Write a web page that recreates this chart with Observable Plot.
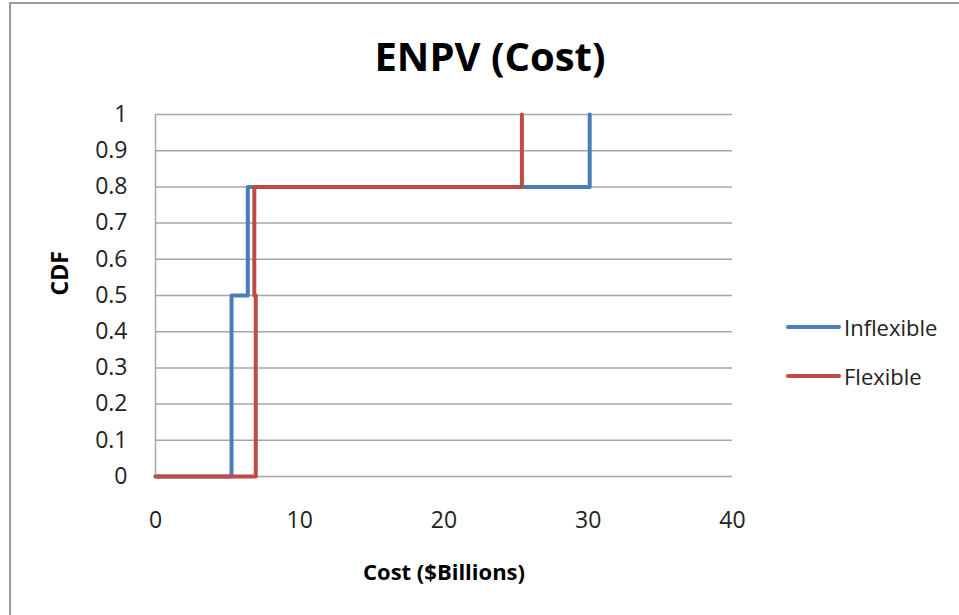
<!DOCTYPE html>
<html>
<head>
<meta charset="utf-8">
<script src="https://cdn.jsdelivr.net/npm/d3@7"></script>
<script src="https://cdn.jsdelivr.net/npm/@observablehq/plot@0.6"></script>
<style>
  html, body { margin: 0; padding: 0; background: #fff; }
  #chart { position: relative; width: 959px; height: 615px; font-family: "Open Sans", sans-serif; overflow: hidden; }
  #frame { position: absolute; left: 9px; top: 2px; width: 960px; height: 620px; border-left: 2px solid #9a9a9a; border-top: 2px solid #9a9a9a; box-sizing: border-box; }
  #title { position: absolute; left: 0; width: 980px; top: 30px; line-height: 1.3; text-align: center; font-size: 40px; font-weight: bold; color: #000; }
  .legend { position: absolute; left: 786px; display: flex; align-items: center; font-size: 22px; line-height: 1.3; color: #222; }
  .legend .sw { width: 55px; height: 4px; border-radius: 2px; margin-right: 3px; }
  #plot { position: absolute; left: 0; top: 0; }
</style>
</head>
<body>
<div id="chart">
  <div id="frame"></div>
  <div id="plot"></div>
  <div id="title">ENPV (Cost)</div>
  <div class="legend" style="top:313px"><div class="sw" style="background:#4a7ebb"></div>Inflexible</div>
  <div class="legend" style="top:362px"><div class="sw" style="background:#be4b48"></div>Flexible</div>
</div>
<script>
// Step CDF of cost for each design ($ billions vs cumulative probability)
const inflexibleCost = [0, 5.27, 5.27, 6.4, 6.4, 30.1, 30.1];
const inflexibleCdf  = [0, 0, 0.5, 0.5, 0.8, 0.8, 1];
const flexibleCost   = [0, 6.95, 6.95, 6.85, 6.85, 25.4, 25.4];
const flexibleCdf    = [0, 0, 0.5, 0.5, 0.8, 0.8, 1];

const xTicks = [0, 10, 20, 30, 40];
const yTicks = [0, 0.1, 0.2, 0.3, 0.4, 0.5, 0.6, 0.7, 0.8, 0.9, 1];

const inflexible = inflexibleCost.map((c, i) => ({cost: c, cdf: inflexibleCdf[i]}));
const flexible = flexibleCost.map((c, i) => ({cost: c, cdf: flexibleCdf[i]}));

const chart = Plot.plot({
  width: 959,
  height: 615,
  marginLeft: 155,
  marginRight: 227,
  marginTop: 114,
  marginBottom: 139,
  style: {background: "transparent", fontFamily: "Open Sans, sans-serif", fontSize: "23px", color: "#222"},
  x: {domain: [0, 40], label: null},
  y: {domain: [0, 1], label: null},
  marks: [
    Plot.ruleY(yTicks, {stroke: "#a6a6a6", strokeWidth: 1.5}),
    Plot.ruleX([0], {stroke: "#a6a6a6", strokeWidth: 1.5}),
    Plot.line(inflexible, {x: "cost", y: "cdf", stroke: "#4a7ebb", strokeWidth: 4, strokeLinejoin: "round"}),
    Plot.line(flexible, {x: "cost", y: "cdf", stroke: "#be4b48", strokeWidth: 4, strokeLinejoin: "round"}),
    Plot.axisX({ticks: xTicks, tickSize: 0, tickPadding: 35, fontSize: 23, fill: "#222"}),
    Plot.axisY({ticks: yTicks, tickSize: 0, tickPadding: 28, fontSize: 23, fill: "#222", tickFormat: d => d3.format("~g")(d)}),
    Plot.text(["Cost ($Billions)"], {frameAnchor: "bottom", dy: 103, fontWeight: "bold", fontSize: 22, fill: "#000"}),
    Plot.text(["CDF"], {frameAnchor: "left", dx: -95, rotate: -90, fontWeight: "bold", fontSize: 23, fill: "#000"})
  ]
});
document.getElementById("plot").appendChild(chart);
</script>
</body>
</html>
